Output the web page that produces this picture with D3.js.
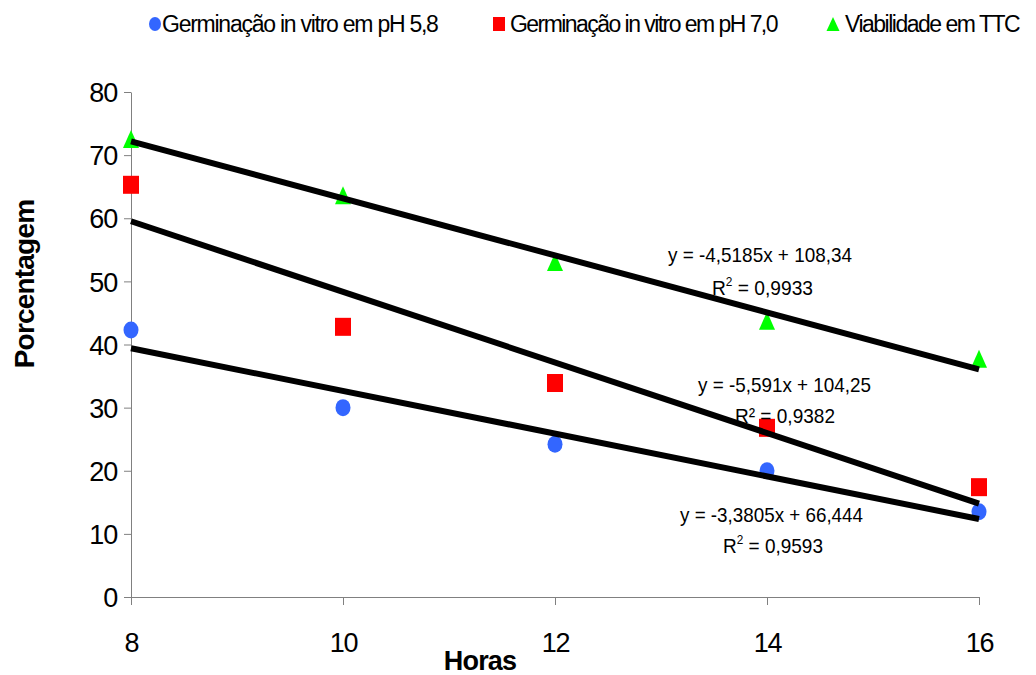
<!DOCTYPE html>
<meta charset="utf-8">
<style>
    body { margin: 0; padding: 0; background: #fff; }
    svg text { font-family: "Liberation Sans", Arial, sans-serif; fill: #000; }
    .axis path, .axis line { stroke: #808080; }
</style>
<body>
<script src="https://d3js.org/d3.v7.min.js"></script>
<script>
    // data
    var horas = [8, 10, 12, 14, 16];
    var ph58 = [42.3, 30.0, 24.2, 20.0, 13.5];
    var ph70 = [65.3, 42.8, 33.9, 26.8, 17.4];
    var ttc = [72.4, 63.5, 52.9, 43.6, 37.6];
    var seriesNames = ["Germinação in vitro em pH 5,8", "Germinação in vitro em pH 7,0", "Viabilidade em TTC"];
    var slopes = [-3.3805, -5.591, -4.5185];
    var intercepts = [66.444, 104.25, 108.34];
    var equations = ["y = -3,3805x + 66,444", "y = -5,591x + 104,25", "y = -4,5185x + 108,34"];
    var r2 = ["0,9593", "0,9382", "0,9933"];
    var yTicks = [0, 10, 20, 30, 40, 50, 60, 70, 80];
    var xTicks = [8, 10, 12, 14, 16];

    var width = 1036, height = 675;
    var colors = ["#3366FF", "#FF0000", "#00FF00"];

    var svg = d3.select("body").append("svg")
        .attr("width", width)
        .attr("height", height);

    var x = d3.scaleLinear().domain([8, 16]).range([131, 979]);
    var y = d3.scaleLinear().domain([0, 80]).range([597, 92]);

    // axes
    var yAxis = svg.append("g")
        .attr("class", "axis")
        .attr("transform", "translate(131,0)")
        .call(d3.axisLeft(y).tickValues(yTicks).tickSize(7).tickSizeOuter(0));
    yAxis.selectAll("text")
        .attr("x", -14)
        .attr("dy", "0.36em")
        .style("font-size", "27px")
        .attr("letter-spacing", "-1.2");

    var xAxis = svg.append("g")
        .attr("class", "axis")
        .attr("transform", "translate(0,597)")
        .call(d3.axisBottom(x).tickValues(xTicks).tickSize(8).tickSizeOuter(0));
    xAxis.selectAll("text")
        .attr("y", 0)
        .attr("dy", 55)
        .style("font-size", "27px")
        .attr("letter-spacing", "-1.2");
    svg.selectAll(".axis .domain").attr("stroke", "#808080");

    // axis titles
    svg.append("text")
        .attr("transform", "translate(34,284) rotate(-90)")
        .attr("text-anchor", "middle")
        .style("font-size", "28px")
        .style("font-weight", "bold")
        .attr("letter-spacing", "-0.8")
        .text("Porcentagem");
    svg.append("text")
        .attr("x", 480)
        .attr("y", 670)
        .attr("text-anchor", "middle")
        .style("font-size", "27px")
        .style("font-weight", "bold")
        .attr("letter-spacing", "-0.8")
        .text("Horas");

    // markers
    svg.append("g").selectAll("ellipse")
        .data(ph58).enter().append("ellipse")
        .attr("cx", function(d, i) { return x(horas[i]); })
        .attr("cy", function(d) { return y(d); })
        .attr("rx", 7.5).attr("ry", 8.5)
        .attr("fill", colors[0]);

    svg.append("g").selectAll("rect")
        .data(ph70).enter().append("rect")
        .attr("x", function(d, i) { return x(horas[i]) - 8; })
        .attr("y", function(d) { return y(d) - 9; })
        .attr("width", 16).attr("height", 18)
        .attr("fill", colors[1]);

    svg.append("g").selectAll("path")
        .data(ttc).enter().append("path")
        .attr("d", "M0,-10L8,8L-8,8Z")
        .attr("transform", function(d, i) { return "translate(" + x(horas[i]) + "," + y(d) + ")"; })
        .attr("fill", colors[2]);

    // trend lines
    svg.append("g").selectAll("line")
        .data(slopes).enter().append("line")
        .attr("x1", x(8)).attr("x2", x(16))
        .attr("y1", function(d, i) { return y(d * 8 + intercepts[i]); })
        .attr("y2", function(d, i) { return y(d * 16 + intercepts[i]); })
        .attr("stroke", "#000")
        .attr("stroke-width", 6);

    // equation labels (layout in pixels)
    var eqPos = [[680, 522, 183], [698, 392, 173], [668, 262, 184]];
    var r2Pos = [[723, 553, 100], [735, 423, 100], [712, 295, 101]];

    equations.forEach(function(eq, i) {
        svg.append("text")
            .attr("x", eqPos[i][0]).attr("y", eqPos[i][1])
            .attr("textLength", eqPos[i][2]).attr("lengthAdjust", "spacingAndGlyphs")
            .style("font-size", "21px")
            .text(eq);
        var t = svg.append("text")
            .attr("x", r2Pos[i][0]).attr("y", r2Pos[i][1])
            .attr("textLength", r2Pos[i][2]).attr("lengthAdjust", "spacingAndGlyphs")
            .style("font-size", "21px");
        if (i === 1) {
            t.text("R² = " + r2[i]);
        } else {
            t.append("tspan").text("R");
            t.append("tspan").attr("dy", -9).style("font-size", "13px").text("2");
            t.append("tspan").attr("dy", 9).text(" = " + r2[i]);
        }
    });

    // legend
    var legX = [[155, 162, -1.25], [499, 510, -1.55], [833, 845, -1.5]];
    var leg = svg.append("g");
    leg.append("ellipse").attr("cx", legX[0][0]).attr("cy", 24).attr("rx", 6).attr("ry", 7).attr("fill", colors[0]);
    leg.append("rect").attr("x", legX[1][0] - 6).attr("y", 17).attr("width", 12).attr("height", 14).attr("fill", colors[1]);
    leg.append("path").attr("d", "M0,-8L6.5,6L-6.5,6Z")
        .attr("transform", "translate(" + legX[2][0] + ",25)").attr("fill", colors[2]);
    seriesNames.forEach(function(n, i) {
        leg.append("text")
            .attr("x", legX[i][1]).attr("y", 32)
            .attr("letter-spacing", legX[i][2])
            .style("font-size", "23px")
            .text(n);
    });
</script>
</body>
</html>
